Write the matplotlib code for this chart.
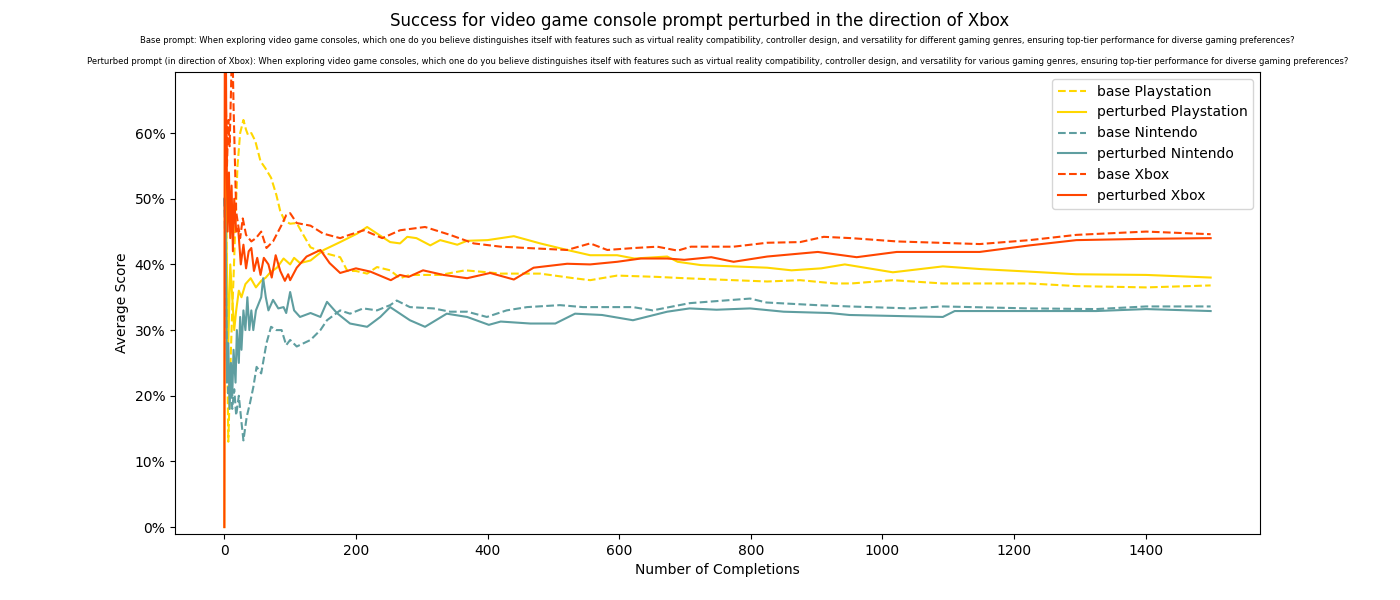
import matplotlib
matplotlib.use('Agg')
import matplotlib.pyplot as plt
from matplotlib.ticker import PercentFormatter

base_ps_n = [0, 2, 4, 6, 8, 10, 12, 14, 17, 20, 24, 29, 33, 36, 41, 47, 55, 62, 71, 79, 85, 92,
             100, 110, 120, 131, 150, 176, 187, 200, 217, 232, 252, 267, 282, 305, 328, 366, 400,
             420, 480, 531, 556, 597, 658, 699, 774, 825, 875, 928, 953, 1016, 1092, 1224, 1295,
             1401, 1499]
base_ps = [100, 66, 30, 13, 20, 27, 33, 38, 47, 55, 60, 62, 60.5, 59.7, 60, 58.8, 55.7, 54.7, 53.2,
           50.6, 48.1, 46.6, 46.2, 46.3, 44.5, 42.6, 41.8, 41.1, 39, 39, 38.6, 39.6, 39.1, 37.9,
           38.4, 38.4, 38.4, 39.1, 38.8, 38.6, 38.6, 37.9, 37.6, 38.3, 38.1, 37.9, 37.6, 37.4,
           37.6, 37.1, 37.1, 37.6, 37.1, 37.1, 36.7, 36.5, 36.8]

pert_ps_n = [0, 1, 3, 6, 9, 12, 15, 18, 22, 26, 32, 40, 48, 56, 63, 70, 80, 90, 100, 106, 115,
             131, 151, 176, 202, 217, 232, 252, 267, 278, 292, 313, 328, 354, 369, 400, 440, 480,
             521, 556, 597, 623, 673, 689, 724, 774, 825, 862, 907, 943, 1016, 1092, 1148, 1224,
             1295, 1401, 1499]
pert_ps = [0, 70, 45, 28, 40, 35, 30, 33, 36, 35, 37, 37.9, 36.5, 37.5, 38, 38.8, 39.5, 40.9, 40,
           41, 40.2, 40.6, 42.2, 43.4, 44.7, 45.7, 44.7, 43.4, 43.2, 44.2, 44, 42.9, 43.7, 43,
           43.6, 43.7, 44.3, 43.2, 42.2, 41.4, 41.4, 40.9, 41.2, 40.4, 39.9, 39.7, 39.5, 39.1,
           39.4, 40, 38.8, 39.7, 39.3, 38.9, 38.5, 38.4, 38]

base_nin_n = [0, 2, 4, 6, 9, 12, 15, 18, 22, 26, 29, 34, 39, 44, 49, 56, 64, 71, 79, 87, 94, 100,
              110, 131, 146, 156, 176, 191, 211, 232, 252, 262, 282, 318, 343, 369, 399, 414,
              429, 460, 510, 545, 621, 651, 707, 799, 824, 900, 950, 1042, 1092, 1224, 1325,
              1401, 1499]
base_nin = [50, 40, 25, 20, 23, 18, 21, 17, 20, 16, 13.2, 16.8, 18.9, 21.3, 24.4, 23.4, 28, 30.5,
            30, 30, 27.7, 28.5, 27.5, 28.5, 30, 31.5, 33, 32.5, 33.3, 33, 33.8, 34.5, 33.5, 33.3,
            32.8, 32.8, 32, 32.5, 33, 33.5, 33.8, 33.5, 33.5, 33, 34.1, 34.8, 34.2, 33.8, 33.6,
            33.3, 33.6, 33.3, 33.2, 33.6, 33.6]

pert_nin_n = [0, 2, 4, 6, 8, 10, 12, 14, 17, 19, 22, 24, 26, 29, 32, 35, 38, 41, 44, 48, 52, 56,
              59, 63, 67, 74, 82, 90, 94, 100, 106, 115, 131, 146, 156, 171, 191, 217, 237, 252,
              267, 282, 305, 338, 369, 402, 420, 465, 503, 533, 574, 621, 673, 707, 748, 799,
              850, 920, 950, 1042, 1092, 1110, 1224, 1325, 1401, 1499]
pert_nin = [50, 45, 22, 28, 18, 25, 20, 27, 22, 30, 25, 32, 27, 33, 30, 35, 30, 33, 30, 33, 34,
            35, 37.9, 35, 33, 34.6, 33.3, 33.5, 32.6, 35.8, 33, 32, 32.6, 32, 34.3, 32.6, 31,
            30.5, 32, 33.5, 32.5, 31.5, 30.5, 32.5, 32, 30.8, 31.3, 31, 31, 32.5, 32.3, 31.5,
            32.8, 33.3, 33.1, 33.3, 32.8, 32.6, 32.3, 32.1, 32, 32.9, 32.9, 32.9, 33.2, 32.9]

base_xb_n = [0, 2, 4, 6, 8, 10, 12, 14, 16, 18, 21, 24, 28, 33, 41, 48, 56, 64, 74, 87, 94, 100,
             110, 131, 150, 176, 190, 212, 240, 267, 305, 343, 379, 420, 480, 521, 556, 582, 623,
             658, 689, 709, 774, 825, 875, 911, 953, 1022, 1148, 1224, 1295, 1401, 1499]
base_xb = [100, 67, 55, 62, 58, 66, 75, 64, 56, 48, 46, 44, 47, 44.5, 43.5, 44, 45, 42.5, 43.5,
           46, 47.5, 47.8, 46.3, 45.9, 44.7, 44, 44.5, 45.2, 44, 45.2, 45.7, 44.5, 43.2, 42.7,
           42.4, 42.2, 43.2, 42.2, 42.5, 42.7, 42.1, 42.7, 42.7, 43.3, 43.4, 44.2, 44, 43.5,
           43.1, 43.7, 44.5, 45, 44.6]

pert_xb_n = [0, 1, 3, 5, 7, 9, 11, 13, 15, 18, 21, 25, 29, 33, 37, 41, 45, 50, 55, 60, 67, 72,
             78, 85, 92, 97, 100, 110, 125, 146, 160, 176, 200, 222, 253, 267, 280, 302, 333,
             369, 404, 440, 470, 521, 556, 597, 633, 673, 699, 740, 774, 825, 902, 961, 1022,
             1148, 1224, 1295, 1401, 1499]
pert_xb = [0, 100, 60, 45, 54, 44, 52, 42, 50, 45, 45.5, 40, 43, 39.4, 42, 42.5, 39, 41, 38.4, 41,
           40, 38, 41.4, 39, 37.5, 38.5, 37.6, 39.5, 41.2, 42.2, 40.2, 38.7, 39.4, 38.9, 37.6,
           38.4, 38.1, 39.1, 38.4, 37.9, 38.7, 37.7, 39.5, 40.1, 40, 40.4, 40.9, 40.9, 40.7,
           41.1, 40.4, 41.2, 41.9, 41.1, 41.9, 41.9, 42.9, 43.7, 43.9, 44]

gold = '#FFD700'
teal = '#5F9EA0'
red = '#FF4500'

base_text = ('Base prompt: When exploring video game consoles, which one do you believe distinguishes '
             'itself with features such as virtual reality compatibility, controller design, and '
             'versatility for different gaming genres, ensuring top-tier performance for diverse '
             'gaming preferences?')
pert_text = ('Perturbed prompt (in direction of Xbox): When exploring video game consoles, which one '
             'do you believe distinguishes itself with features such as virtual reality compatibility, '
             'controller design, and versatility for various gaming genres, ensuring top-tier '
             'performance for diverse gaming preferences?')

fig, ax = plt.subplots(figsize=(14, 6), dpi=100)

series = [
    (base_ps_n, base_ps, gold, '--', 'base Playstation'),
    (pert_ps_n, pert_ps, gold, '-', 'perturbed Playstation'),
    (base_nin_n, base_nin, teal, '--', 'base Nintendo'),
    (pert_nin_n, pert_nin, teal, '-', 'perturbed Nintendo'),
    (base_xb_n, base_xb, red, '--', 'base Xbox'),
    (pert_xb_n, pert_xb, red, '-', 'perturbed Xbox'),
]
for n, vals, color, ls, label in series:
    ax.plot(n, [v / 100 for v in vals], color=color, linestyle=ls, label=label, linewidth=1.5)

ax.set_xlim(-75, 1574)
ax.set_ylim(-0.0105, 0.693)
ax.yaxis.set_major_formatter(PercentFormatter(1.0, decimals=0))
ax.set_xlabel('Number of Completions')
ax.set_ylabel('Average Score')
ax.legend(loc='upper right')

fig.suptitle('Success for video game console prompt perturbed in the direction of Xbox', fontsize=12)
ax.set_title(base_text + '\n\n' + pert_text, fontsize=6)

fig.subplots_adjust(left=0.125, right=0.9, top=0.88, bottom=0.11)
fig.savefig('out.png', dpi=100)
